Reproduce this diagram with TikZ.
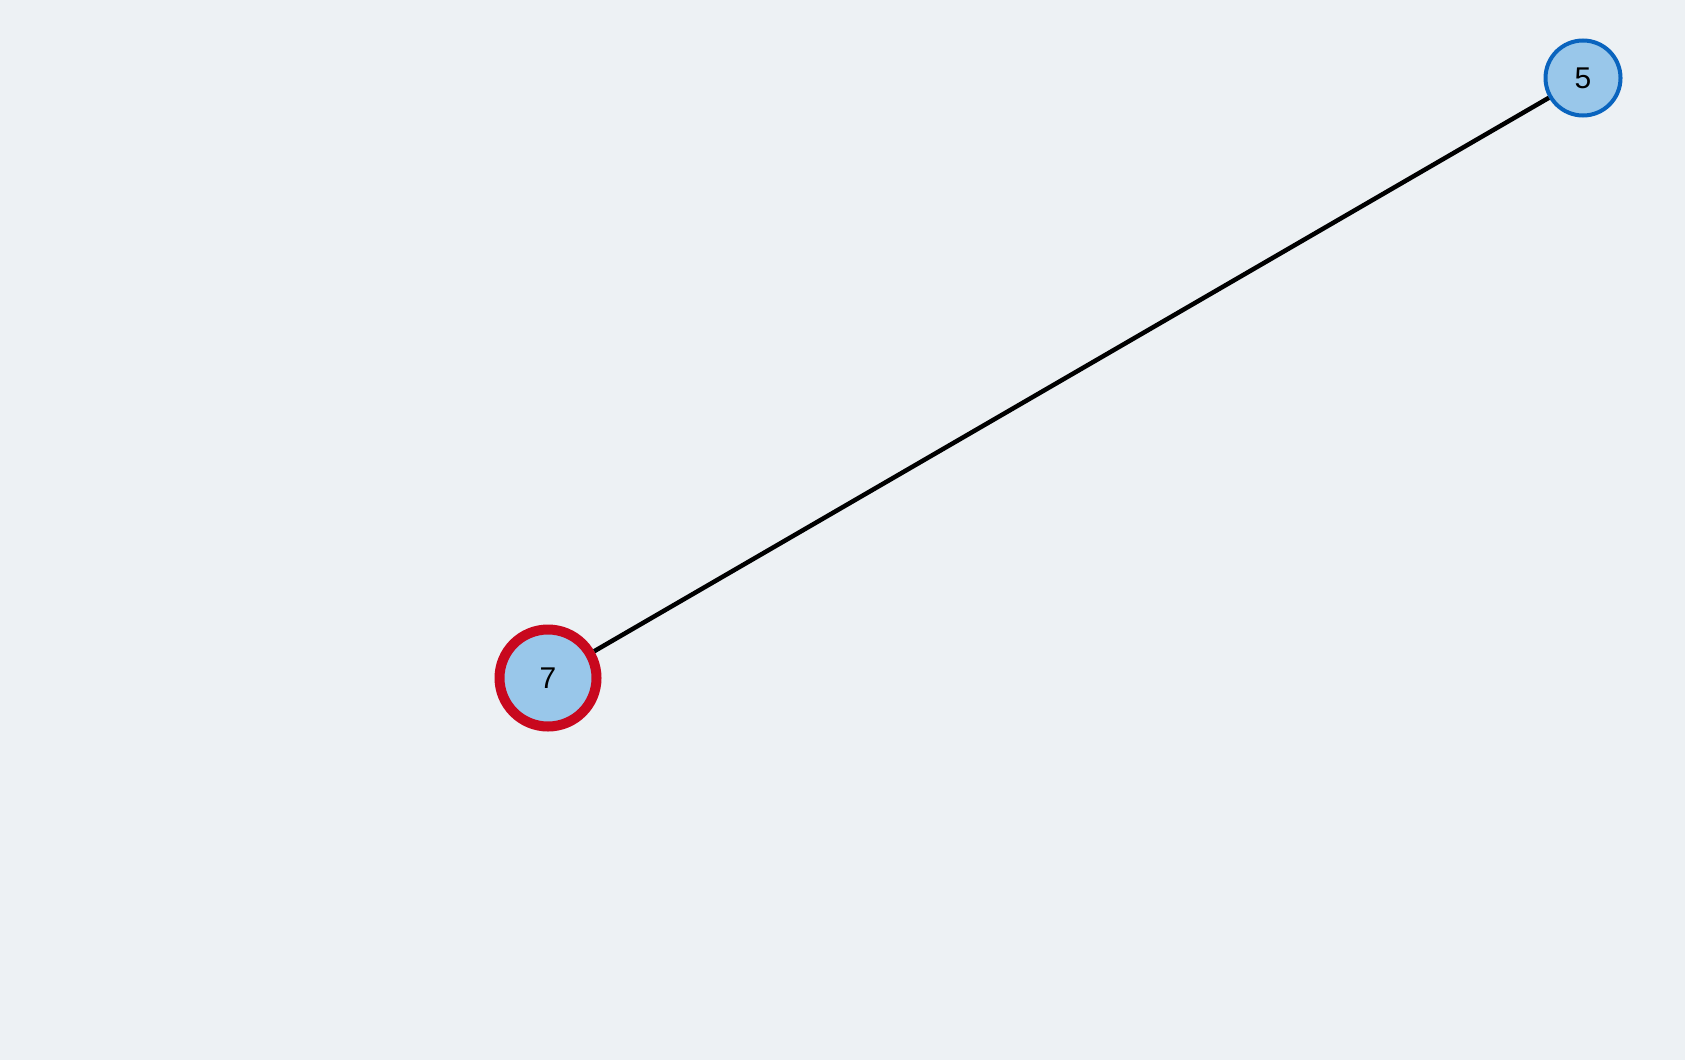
\documentclass[tikz,border=0pt]{standalone}
\usepackage{fontspec}
\setmainfont{Liberation Sans}
\usetikzlibrary{positioning}
\definecolor{bgcol}{HTML}{EDF1F4}
\definecolor{nodefill}{HTML}{99C7EA}
\definecolor{nodeblue}{HTML}{0A64BE}
\definecolor{nodered}{HTML}{C8081E}
\tikzset{vertex/.style={circle,fill=nodefill,inner sep=0pt,font=\fontsize{30}{32}\selectfont}}
\tikzset{plain/.style={vertex,draw=nodeblue,line width=4pt,minimum size=75pt}}
\tikzset{marked/.style={vertex,draw=nodered,line width=10pt,minimum size=97pt}}
\tikzset{edge/.style={line width=4.5pt,black}}

\begin{document}
\begin{tikzpicture}[x=1pt,y=-1pt]
  \fill[bgcol] (0,0) rectangle (1685,1060);
  \useasboundingbox (0,0) rectangle (1685,1060);
  \node[plain] (n5) at (1583,78) {5};
  \node[marked] (n7) at (548,678) {7};
  \draw[edge] (n7) -- (n5);
\end{tikzpicture}
\end{document}
